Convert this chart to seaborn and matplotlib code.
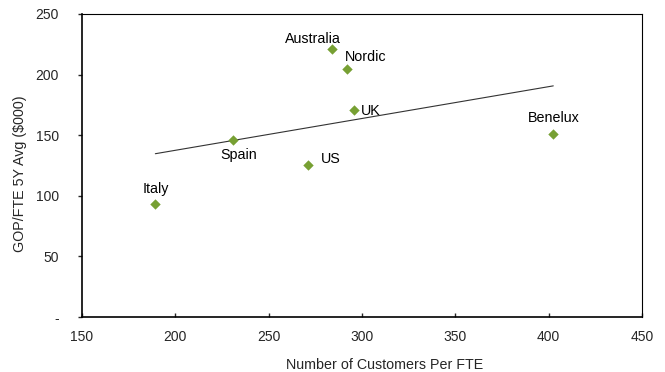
import matplotlib
matplotlib.use('Agg')
import matplotlib.pyplot as plt
import seaborn as sns
import pandas as pd

regions = ['Australia', 'Nordic', 'UK', 'Benelux', 'US', 'Spain', 'Italy']
customers_per_fte = [283.7, 291.8, 295.9, 402.5, 271.2, 231.1, 189.3]
gop_per_fte = [221.0, 204.6, 170.5, 150.7, 125.4, 146.0, 93.0]

# label offsets (points) of the text baseline relative to each marker
label_offsets = {
    'Australia': (-13.5, 4.3, 'center'),
    'Nordic': (-1, 6, 'left'),
    'UK': (5, -3, 'left'),
    'Benelux': (0, 8.6, 'center'),
    'US': (9, 1.7, 'left'),
    'Spain': (4, -13.7, 'center'),
    'Italy': (0, 8, 'center'),
}

sns.set_style('white')
plt.rcParams['font.family'] = ['Liberation Sans', 'DejaVu Sans']

df = pd.DataFrame({'region': regions, 'x': customers_per_fte, 'y': gop_per_fte})

fig = plt.figure(figsize=(6.65, 3.72), dpi=100)
ax = fig.add_axes([0.1233, 0.1478, 0.842, 0.8146])

sns.regplot(data=df, x='x', y='y', ax=ax, scatter=False, ci=None, truncate=True,
            line_kws={'color': '#333333', 'lw': 0.8})
sns.scatterplot(data=df, x='x', y='y', ax=ax, marker='D', s=28, color='#77A033',
                edgecolor='#77A033', linewidth=0, zorder=3)

for name, xv, yv in zip(regions, customers_per_fte, gop_per_fte):
    dx, dy, ha = label_offsets[name]
    ax.annotate(name, (xv, yv), xytext=(dx, dy), textcoords='offset points',
                ha=ha, va='baseline', fontsize=10.25, color='#000000')

ax.set_xlim(150, 450)
ax.set_ylim(0, 250)
ax.set_xticks(range(150, 451, 50))
ax.set_yticks(range(0, 251, 50))
ax.set_yticklabels(['-'] + [str(v) for v in range(50, 251, 50)])
ax.tick_params(axis='x', direction='in', length=3, width=1, labelsize=10, pad=9, bottom=True)
ax.tick_params(axis='y', direction='out', length=3, width=1, labelsize=10, pad=13.5, left=True)

for side in ['left', 'bottom', 'top', 'right']:
    ax.spines[side].set_visible(True)
    ax.spines[side].set_color('#000000')
ax.spines['left'].set_linewidth(1.2)
ax.spines['bottom'].set_linewidth(1.2)
ax.spines['top'].set_linewidth(0.8)
ax.spines['right'].set_linewidth(0.8)

ax.set_xlabel('Number of Customers Per FTE', fontsize=10.25)
ax.set_ylabel('GOP/FTE 5Y Avg ($000)', fontsize=10.25)
ax.xaxis.set_label_coords(0.54, -0.134)
ax.yaxis.set_label_coords(-0.098, 0.472)

plt.savefig('out.png', dpi=100)
